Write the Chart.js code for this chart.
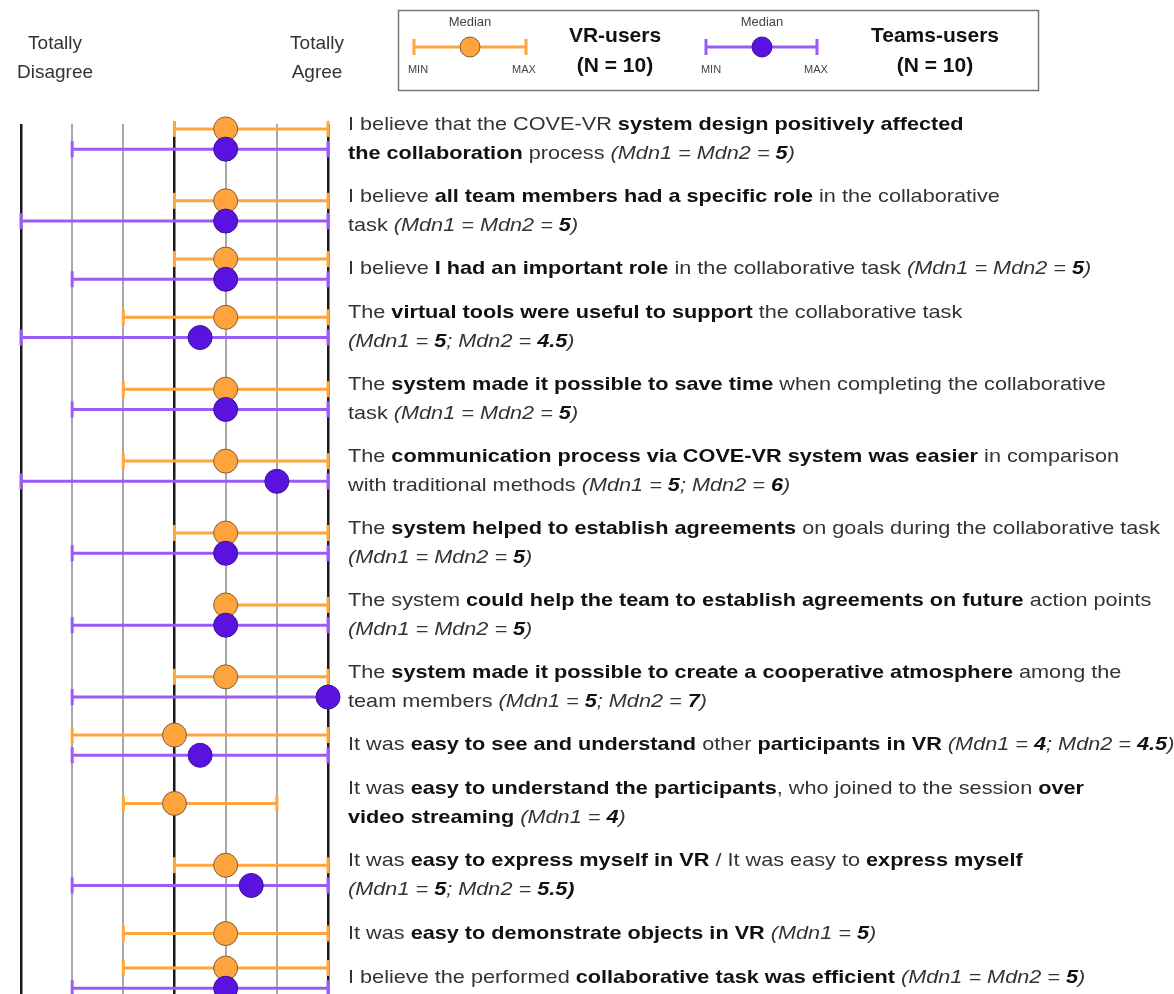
<!DOCTYPE html>
<html>
<head>
<meta charset="utf-8">
<title>COVE-VR questionnaire</title>
<script src="https://cdn.jsdelivr.net/npm/chart.js@4.4.1/dist/chart.umd.min.js"></script>
<style>
  html, body { margin: 0; padding: 0; background: #fff; }
  canvas { display: block; }
</style>
</head>
<body>
<canvas id="likertChart" width="1174" height="994"></canvas>
<script>
// Likert answers, 1 = totally disagree ... 7 = totally agree (null = not asked to Teams-users)
const vrMin       = [4, 4, 4, 3, 3, 3, 4, 5, 4, 2, 3, 4, 3, 3];
const vrMedian    = [5, 5, 5, 5, 5, 5, 5, 5, 5, 4, 4, 5, 5, 5];
const vrMax       = [7, 7, 7, 7, 7, 7, 7, 7, 7, 7, 6, 7, 7, 7];
const teamsMin    = [2, 1, 2, 1, 2, 1, 2, 2, 2, 2, null, 2, null, 2];
const teamsMedian = [5, 5, 5, 4.5, 5, 6, 5, 5, 7, 4.5, null, 5.5, null, 5];
const teamsMax    = [7, 7, 7, 7, 7, 7, 7, 7, 7, 7, null, 7, null, 7];
const scaleTicks  = [1, 2, 3, 4, 5, 6, 7];
const strongTicks = [1, 4, 7];

// statements, one string per printed line; **bold**, _italic_
const statements = [
  ["I believe that the COVE-VR **system design positively affected**",
   "**the collaboration** process _(Mdn1 = Mdn2 = **5**)_"],
  ["I believe **all team members had a specific role** in the collaborative",
   "task _(Mdn1 = Mdn2 = **5**)_"],
  ["I believe **I had an important role** in the collaborative task _(Mdn1 = Mdn2 = **5**)_"],
  ["The **virtual tools were useful to support** the collaborative task",
   "_(Mdn1 = **5**; Mdn2 = **4.5**)_"],
  ["The **system made it possible to save time** when completing the collaborative",
   "task _(Mdn1 = Mdn2 = **5**)_"],
  ["The **communication process via COVE-VR system was easier** in comparison",
   "with traditional methods _(Mdn1 = **5**; Mdn2 = **6**)_"],
  ["The **system helped to establish agreements** on goals during the collaborative task",
   "_(Mdn1 = Mdn2 = **5**)_"],
  ["The system **could help the team to establish agreements on future** action points",
   "_(Mdn1 = Mdn2 = **5**)_"],
  ["The **system made it possible to create a cooperative atmosphere** among the",
   "team members _(Mdn1 = **5**; Mdn2 = **7**)_"],
  ["It was **easy to see and understand** other **participants in VR** _(Mdn1 = **4**; Mdn2 = **4.5**)_"],
  ["It was **easy to understand the participants**, who joined to the session **over**",
   "**video streaming** _(Mdn1 = **4**)_"],
  ["It was **easy to express myself in VR** / It was easy to **express myself**",
   "_(Mdn1 = **5**; Mdn2 = **5.5)**_"],
  ["It was **easy to demonstrate objects in VR** _(Mdn1 = **5**)_"],
  ["I believe the performed **collaborative task was efficient** _(Mdn1 = Mdn2 = **5**)_"]
];

const ORANGE = "#FFA53D";
const ORANGE_DOT = "#FFA43C";
const PURPLE = "#9A5CF7";
const PURPLE_DOT = "#5A12E0";
const FONT = '"Liberation Sans", Arial, sans-serif';

// vertical layout in "text line" units
const ROW_GAP = 0.63;
const PAIR_OFFSET = 0.37;
const centers = [];
statements.forEach((lines, i) => {
  if (i === 0) centers.push(0);
  else centers.push(centers[i - 1] + (statements[i - 1].length + lines.length) / 2 + ROW_GAP);
});
const lastCenter = centers[centers.length - 1];
const hasTeams = i => teamsMedian[i] !== null;
const vrY = i => centers[i] - (hasTeams(i) ? PAIR_OFFSET : 0);
const teamsY = i => centers[i] + PAIR_OFFSET;

function parseLine(str) {
  const segs = [];
  let bold = false, italic = false, buf = "";
  const flush = () => { if (buf) segs.push({ text: buf, bold, italic }); buf = ""; };
  for (let k = 0; k < str.length; k++) {
    if (str.startsWith("**", k)) { flush(); bold = !bold; k++; continue; }
    if (str[k] === "_") { flush(); italic = !italic; continue; }
    buf += str[k];
  }
  flush();
  return segs;
}
const parsed = statements.map(lines => lines.map(parseLine));

function richFont(seg) {
  return `${seg.italic ? "italic " : ""}${seg.bold ? "bold " : ""}19px ${FONT}`;
}
function lineWidth(ctx, segs) {
  let w = 0;
  segs.forEach(s => { ctx.font = richFont(s); w += ctx.measureText(s.text).width; });
  return w;
}
function drawRich(ctx, segs, x, y, sx) {
  ctx.save();
  ctx.translate(x, y);
  ctx.scale(sx, 1);
  let cx = 0;
  segs.forEach(s => {
    ctx.font = richFont(s);
    ctx.fillStyle = s.bold ? "#111" : "#333";
    ctx.fillText(s.text, cx, 0);
    cx += ctx.measureText(s.text).width;
  });
  ctx.restore();
}

function rangeDataset(points, color) {
  return {
    type: "line",
    data: points,
    showLine: true,
    borderColor: color,
    borderWidth: 3,
    pointStyle: "line",
    pointRotation: 90,
    pointRadius: 8,
    pointBorderWidth: 3,
    pointBorderColor: color,
    clip: false,
    order: 2
  };
}

const datasets = [];
datasets.push({
  type: "scatter",
  label: "Teams median",
  data: teamsMedian.map((m, i) => m === null ? null : { x: m, y: teamsY(i) }).filter(p => p),
  pointRadius: 12,
  backgroundColor: PURPLE_DOT,
  borderColor: "#3b1290",
  borderWidth: 1,
  clip: false,
  order: 0
});
datasets.push({
  type: "scatter",
  label: "VR median",
  data: vrMedian.map((m, i) => ({ x: m, y: vrY(i) })),
  pointRadius: 12,
  backgroundColor: ORANGE_DOT,
  borderColor: "#7d5e36",
  borderWidth: 1,
  clip: false,
  order: 1
});
vrMin.forEach((mn, i) => {
  datasets.push(rangeDataset([{ x: mn, y: vrY(i) }, { x: vrMax[i], y: vrY(i) }], ORANGE));
});
teamsMin.forEach((mn, i) => {
  if (mn === null) return;
  datasets.push(rangeDataset([{ x: mn, y: teamsY(i) }, { x: teamsMax[i], y: teamsY(i) }], PURPLE));
});

function drawSample(ctx, x0, x1, y, xm, lineColor, dotColor, dotBorder) {
  ctx.save();
  ctx.strokeStyle = lineColor;
  ctx.lineWidth = 3;
  ctx.beginPath();
  ctx.moveTo(x0, y); ctx.lineTo(x1, y);
  ctx.moveTo(x0, y - 8); ctx.lineTo(x0, y + 8);
  ctx.moveTo(x1, y - 8); ctx.lineTo(x1, y + 8);
  ctx.stroke();
  ctx.beginPath();
  ctx.arc(xm, y, 10, 0, Math.PI * 2);
  ctx.fillStyle = dotColor;
  ctx.fill();
  ctx.lineWidth = 1;
  ctx.strokeStyle = dotBorder;
  ctx.stroke();
  ctx.restore();
}

const textPlugin = {
  id: "statementText",
  afterDraw(chart) {
    const { ctx, scales: { x, y } } = chart;
    ctx.save();
    ctx.textBaseline = "middle";
    ctx.textAlign = "left";

    // statements on the right, condensed to the printed width
    const sx = 812 / lineWidth(ctx, parsed[6][0]);
    const LINE_H = 29;
    parsed.forEach((lines, i) => {
      const c = y.getPixelForValue(centers[i]);
      const top = c - (lines.length - 1) * LINE_H / 2;
      lines.forEach((segs, k) => drawRich(ctx, segs, 348, top + k * LINE_H, sx));
    });

    // scale ends
    ctx.font = `19px ${FONT}`;
    ctx.fillStyle = "#333";
    ctx.textAlign = "center";
    const xl = x.getPixelForValue(1) + 34;
    ctx.fillText("Totally", xl, 44);
    ctx.fillText("Disagree", xl, 73);
    const xr = x.getPixelForValue(7) - 11;
    ctx.fillText("Totally", xr, 44);
    ctx.fillText("Agree", xr, 73);

    // legend box
    ctx.strokeStyle = "#777";
    ctx.lineWidth = 1.5;
    ctx.strokeRect(398.5, 10.5, 640, 80);
    drawSample(ctx, 414, 526, 47, 470, ORANGE, ORANGE_DOT, "#7d5e36");
    drawSample(ctx, 706, 817, 47, 762, PURPLE, PURPLE_DOT, "#3b1290");
    ctx.fillStyle = "#444";
    ctx.font = `13px ${FONT}`;
    ctx.fillText("Median", 470, 22);
    ctx.fillText("Median", 762, 22);
    ctx.font = `11px ${FONT}`;
    ctx.fillText("MIN", 418, 70);
    ctx.fillText("MAX", 524, 70);
    ctx.fillText("MIN", 711, 70);
    ctx.fillText("MAX", 816, 70);
    ctx.fillStyle = "#111";
    ctx.font = `bold 21px ${FONT}`;
    ctx.fillText("VR-users", 615, 36);
    ctx.fillText("(N = 10)", 615, 66);
    ctx.fillText("Teams-users", 935, 36);
    ctx.fillText("(N = 10)", 935, 66);
    ctx.restore();
  }
};

new Chart(document.getElementById("likertChart"), {
  type: "scatter",
  data: { datasets },
  options: {
    responsive: false,
    animation: false,
    events: [],
    layout: { autoPadding: false, padding: { left: 21, right: 846, top: 124, bottom: 0 } },
    plugins: { legend: { display: false }, tooltip: { enabled: false } },
    scales: {
      x: {
        type: "linear",
        min: scaleTicks[0],
        max: scaleTicks[scaleTicks.length - 1],
        afterBuildTicks: axis => { axis.ticks = scaleTicks.map(v => ({ value: v })); },
        afterFit: axis => { axis.height = 0; },
        ticks: { display: false },
        border: { display: false },
        grid: {
          drawTicks: false,
          color: c => strongTicks.includes(c.tick.value) ? "#1a1a1a" : "#a8a8a8",
          lineWidth: c => strongTicks.includes(c.tick.value) ? 2.5 : 2
        }
      },
      y: {
        type: "linear",
        reverse: true,
        display: false,
        min: -0.55,
        max: lastCenter + 0.58
      }
    }
  },
  plugins: [textPlugin]
});
</script>
</body>
</html>
